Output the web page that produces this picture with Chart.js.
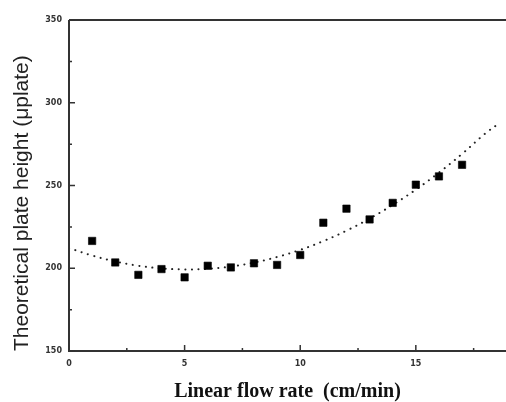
<!DOCTYPE html>
<html><head><meta charset="utf-8">
<script src="https://cdn.jsdelivr.net/npm/chart.js@4/dist/chart.umd.min.js"></script>
<style>html,body{margin:0;padding:0;background:#fff}#wrap{width:506px;height:402px}</style>
</head><body><div id="wrap"><canvas id="c" width="506" height="402"></canvas></div>
<script>
// measured points
const flowRate = [1,2,3,4,5,6,7,8,9,10,11,12,13,14,15,16,17];
const plateHeight = [216.5,203.5,196,199.5,194.5,201.5,200.5,203,202,208,227.5,236,229.5,239.5,250.5,255.5,262.5];
// dotted fit curve
const fitX = [0,1,2,3,4,5,6,7,8,9,10,11,12,13,14,15,16,17,18,18.5];
const fitY = [212.2,207.7,204.1,201.5,199.9,199.3,199.7,201.0,203.4,206.8,211.1,216.4,222.7,230.0,238.3,247.5,257.8,269.1,281.4,286.5];
const xMajor = [0,5,10,15];
const xMinor = [2.5,7.5,12.5,17.5];
const yMajor = [150,200,250,300,350];
const yMinor = [175,225,275,325];

const framePlugin = {
  id:'frame',
  afterDatasetsDraw(chart){
    const {ctx, chartArea:a, scales:{x,y}} = chart;
    ctx.save();
    ctx.strokeStyle='#333'; ctx.lineWidth=2;
    ctx.beginPath();
    ctx.moveTo(a.left, a.top); ctx.lineTo(a.right, a.top);
    ctx.moveTo(a.left, a.top); ctx.lineTo(a.left, a.bottom);
    ctx.lineTo(a.right, a.bottom);
    ctx.stroke();
    ctx.lineWidth=1.5;
    ctx.beginPath();
    xMajor.forEach(v=>{const px=x.getPixelForValue(v); ctx.moveTo(px,a.bottom); ctx.lineTo(px,a.bottom-6);});
    xMinor.forEach(v=>{const px=x.getPixelForValue(v); ctx.moveTo(px,a.bottom); ctx.lineTo(px,a.bottom-3);});
    yMajor.forEach(v=>{const py=y.getPixelForValue(v); ctx.moveTo(a.left,py); ctx.lineTo(a.left+6,py);});
    yMinor.forEach(v=>{const py=y.getPixelForValue(v); ctx.moveTo(a.left,py); ctx.lineTo(a.left+3,py);});
    ctx.stroke();
    ctx.restore();
  }
};

new Chart(document.getElementById('c'), {
  type:'scatter',
  data:{datasets:[
    {data: fitX.map((v,i)=>({x:v,y:fitY[i]})), showLine:true, pointRadius:0, borderColor:'#222',
     borderWidth:2, borderDash:[0.1,6.5], borderCapStyle:'round', tension:0.4, fill:false, order:2},
    {data: flowRate.map((v,i)=>({x:v,y:plateHeight[i]})), pointStyle:'rect', pointRadius:5.2,
     backgroundColor:'#000', borderColor:'#000', borderWidth:0.6, showLine:false, order:1}
  ]},
  options:{
    responsive:false, animation:false, events:[],
    layout:{autoPadding:false, padding:{top:20,left:0,right:0,bottom:0}},
    plugins:{legend:{display:false}, tooltip:{enabled:false}},
    scales:{
      x:{type:'linear', min:0, max:18.9,
        afterBuildTicks:s=>{s.ticks = xMajor.map(v=>({value:v}));},
        afterFit:s=>{s.height=51; s.paddingRight=0; s.paddingLeft=0;},
        grid:{display:false, drawTicks:false}, border:{display:false},
        ticks:{padding:8, color:'#333', font:{family:'DejaVu Sans', size:8, weight:'bold'}, maxRotation:0},
        title:{display:true, text:'Linear flow rate  (cm/min)', color:'#111',
          font:{family:'Liberation Serif', size:20, weight:'bold', lineHeight:1}, padding:{top:0,bottom:0}}
      },
      y:{type:'linear', min:150, max:350,
        afterBuildTicks:s=>{s.ticks = yMajor.map(v=>({value:v}));},
        afterFit:s=>{s.width=69; s.paddingTop=0; s.paddingBottom=0;},
        grid:{display:false, drawTicks:false}, border:{display:false},
        ticks:{padding:7, color:'#333', font:{family:'DejaVu Sans', size:8, weight:'bold'}},
        title:{display:true, align:'start', text:'Theoretical plate height (μplate)', color:'#222',
          font:{family:'Liberation Sans', size:21, lineHeight:1.2}, padding:{top:10,bottom:0}}
      }
    }
  },
  plugins:[framePlugin]
});
</script></body></html>
